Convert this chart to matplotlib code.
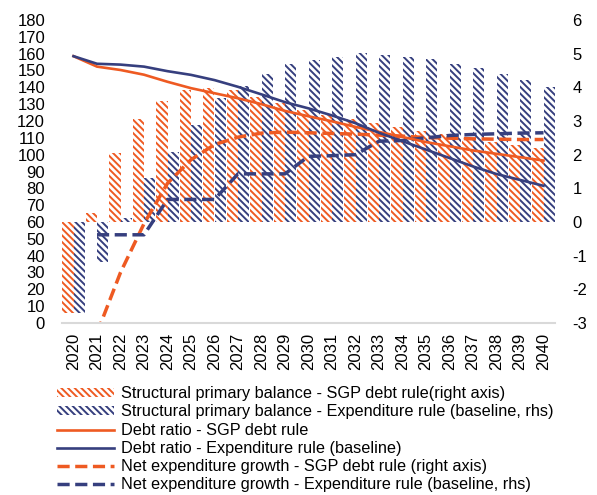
import matplotlib
matplotlib.use("Agg")
import matplotlib.pyplot as plt
import numpy as np

plt.rcParams['font.family'] = ['Liberation Sans', 'DejaVu Sans']
plt.rcParams['axes.unicode_minus'] = False
plt.rcParams['hatch.linewidth'] = 1.4

ORANGE = '#EE5A22'
NAVY = '#363F7E'

years = list(range(2020, 2041))

# structural primary balance, % of GDP (right axis)
spb_sgp = [-2.7, 0.26, 2.06, 3.05, 3.6, 3.93, 3.97, 3.92, 3.72, 3.54, 3.32,
           3.18, 3.06, 2.95, 2.83, 2.71, 2.61, 2.49, 2.39, 2.29, 2.19]
spb_exp = [-2.7, -1.18, 0.11, 1.3, 2.09, 2.88, 3.67, 4.04, 4.4, 4.69, 4.81,
           4.91, 5.01, 4.96, 4.91, 4.83, 4.69, 4.57, 4.4, 4.22, 4.0]

# debt ratio, % of GDP (left axis)
debt_sgp = [158.5, 152.3, 150.3, 147.5, 143.3, 139.5, 136.5, 133.5, 130.0, 126.0, 122.8,
            119.8, 116.5, 113.5, 110.5, 107.5, 105.0, 102.5, 100.5, 98.5, 96.5]
debt_exp = [158.5, 154.0, 153.5, 152.3, 149.6, 147.4, 144.3, 140.3, 135.8, 131.2, 127.5,
            123.3, 118.7, 113.0, 108.0, 103.0, 98.0, 93.0, 88.5, 85.0, 81.5]

# net expenditure growth, % (right axis)
neg_sgp = [np.nan, -3.3, -1.5, -0.05, 1.15, 1.85, 2.3, 2.52, 2.64, 2.67, 2.65,
           2.63, 2.61, 2.58, 2.55, 2.51, 2.49, 2.47, 2.46, 2.45, 2.45]
neg_exp = [np.nan, -0.38, -0.38, -0.38, 0.67, 0.67, 0.67, 1.43, 1.43, 1.43, 1.95,
           1.97, 2.0, 2.4, 2.42, 2.5, 2.57, 2.6, 2.62, 2.64, 2.65]

labels = [
    'Structural primary balance - SGP debt rule(right axis)',
    'Structural primary balance - Expenditure rule (baseline, rhs)',
    'Debt ratio - SGP debt rule',
    'Debt ratio - Expenditure rule (baseline)',
    'Net expenditure growth - SGP debt rule (right axis)',
    'Net expenditure growth - Expenditure rule (baseline, rhs)',
]

x = np.arange(len(years))
w = 0.47
hatch = '\\' * 5

fig = plt.figure(figsize=(5.97, 4.95), dpi=100)
ax = fig.add_axes([61.75 / 597, 1 - 323 / 495, 493.5 / 597, 303 / 495])

# bars and growth lines on the -3..6 scale
b1 = ax.bar(x - w / 2, spb_sgp, w, color='white', edgecolor=ORANGE,
            hatch=hatch, linewidth=0)
b2 = ax.bar(x + w / 2, spb_exp, w, color='white', edgecolor=NAVY,
            hatch=hatch, linewidth=0)
l5, = ax.plot(x, neg_sgp, color=ORANGE, lw=2.5, dashes=(3.5, 1.6))
l6, = ax.plot(x, neg_exp, color=NAVY, lw=2.5, dashes=(3.5, 1.6))
ax.set_ylim(-3, 6)
ax.set_yticks(range(-3, 7))
ax.set_xlim(-0.5, len(years) - 0.5)
ax.set_xticks(x)
ax.set_xticklabels([str(y) for y in years], rotation=90)

# debt ratios on the 0..180 scale
ax2 = ax.twinx()
l3, = ax2.plot(x, debt_sgp, color=ORANGE, lw=1.9)
l4, = ax2.plot(x, debt_exp, color=NAVY, lw=1.9)
ax2.set_ylim(0, 180)
ax2.set_yticks(range(0, 181, 10))

# swap sides: debt scale on the left, balance/growth scale on the right
ax2.yaxis.tick_left()
ax.yaxis.tick_right()
ax.tick_params(axis='y', length=0, pad=12.5, labelsize=12)
ax.tick_params(axis='x', length=0, pad=7, labelsize=12)
ax2.tick_params(axis='y', length=0, pad=12, labelsize=12)

for a in (ax, ax2):
    for s in a.spines.values():
        s.set_visible(False)
ax.spines['bottom'].set_visible(True)
ax.spines['bottom'].set_color('#D9D9D9')
ax.spines['bottom'].set_linewidth(1.5)

fig.legend([b1, b2, l3, l4, l5, l6], labels, loc='upper left',
           bbox_to_anchor=(49 / 597, 1 - 378 / 495), frameon=False,
           fontsize=11.7, handlelength=3.5, handletextpad=0.45,
           labelspacing=0.2, borderpad=0, handleheight=0.45)

fig.savefig('out.png', dpi=100)
